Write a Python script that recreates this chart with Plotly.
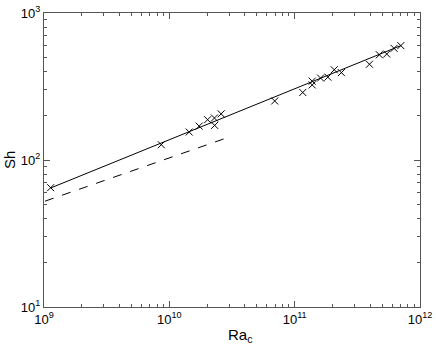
import plotly.graph_objects as go

# data points (Ra_c, Sh)
ra = [1.13e9, 8.63e9, 1.44e10, 1.73e10, 2.02e10, 2.29e10, 2.30e10, 2.59e10,
      6.93e10, 1.16e11, 1.38e11, 1.38e11, 1.61e11, 1.84e11, 2.07e11, 2.36e11,
      3.95e11, 4.74e11, 5.43e11, 6.21e11, 7.03e11]
sh = [64.8, 127, 155, 170, 188, 193, 172, 206,
      252, 288, 324, 344, 361, 366, 411, 393,
      448, 520, 526, 575, 600]

# fit line (solid)
fit_x = [1.13e9, 7.03e11]
fit_y = [64.5, 600]

# reference line (dashed)
ref_x = [1.02e9, 2.82e10]
ref_y = [52.5, 140.6]

# tick labels
x_tickvals = [1e9, 1e10, 1e11, 1e12]
x_ticktext = ["10<sup>9</sup>", "10<sup>10</sup>", "10<sup>11</sup>", "10<sup>12</sup>"]
y_tickvals = [10, 100, 1000]
y_ticktext = ["10<sup>1</sup>", "10<sup>2</sup>", "10<sup>3</sup>"]
x_minor = [m * 10 ** e for e in (9, 10, 11) for m in range(2, 10)]
y_minor = [m * 10 ** e for e in (1, 2) for m in range(2, 10)]

fig = go.Figure()
fig.add_trace(go.Scatter(x=fit_x, y=fit_y, mode="lines",
                         line=dict(color="black", width=1), showlegend=False))
fig.add_trace(go.Scatter(x=ref_x, y=ref_y, mode="lines",
                         line=dict(color="black", width=1, dash="dash"), showlegend=False))
fig.add_trace(go.Scatter(x=ra, y=sh, mode="markers",
                         marker=dict(symbol="x-thin", size=7, line=dict(color="black", width=1)),
                         showlegend=False))

FONT = "Liberation Sans, Arial, sans-serif"
axis_common = dict(
    type="log", showgrid=False, zeroline=False, automargin=False,
    showline=True, linecolor="#555555", linewidth=1, mirror="ticks",
    ticks="inside", ticklen=6, tickcolor="#555555",
    tickfont=dict(family=FONT, size=13, color="black"),
)

fig.update_layout(
    width=436, height=350,
    margin=dict(l=44, r=16, t=13, b=43),
    paper_bgcolor="white", plot_bgcolor="white",
    font=dict(family=FONT, size=13, color="black"),
    xaxis=dict(axis_common, range=[9, 12], tickvals=x_tickvals, ticktext=x_ticktext,
               minor=dict(ticks="inside", ticklen=3, tickcolor="#555555",
                          tickvals=x_minor, showgrid=False)),
    yaxis=dict(axis_common, range=[1, 3], tickvals=y_tickvals, ticktext=y_ticktext,
               minor=dict(ticks="inside", ticklen=3, tickcolor="#555555",
                          tickvals=y_minor, showgrid=False)),
    annotations=[
        dict(text="Ra<sub>c</sub>", xref="paper", yref="paper", x=0.521, y=-0.0986,
             xanchor="center", yanchor="middle", showarrow=False,
             font=dict(family=FONT, size=15, color="black")),
        dict(text="Sh", xref="paper", yref="paper", x=-0.093, y=0.5,
             xanchor="center", yanchor="middle", textangle=-90, showarrow=False,
             font=dict(family=FONT, size=15, color="black")),
    ],
)

fig.write_html("out.html", config={"displayModeBar": False},
               post_script="document.body.style.margin='0';")
